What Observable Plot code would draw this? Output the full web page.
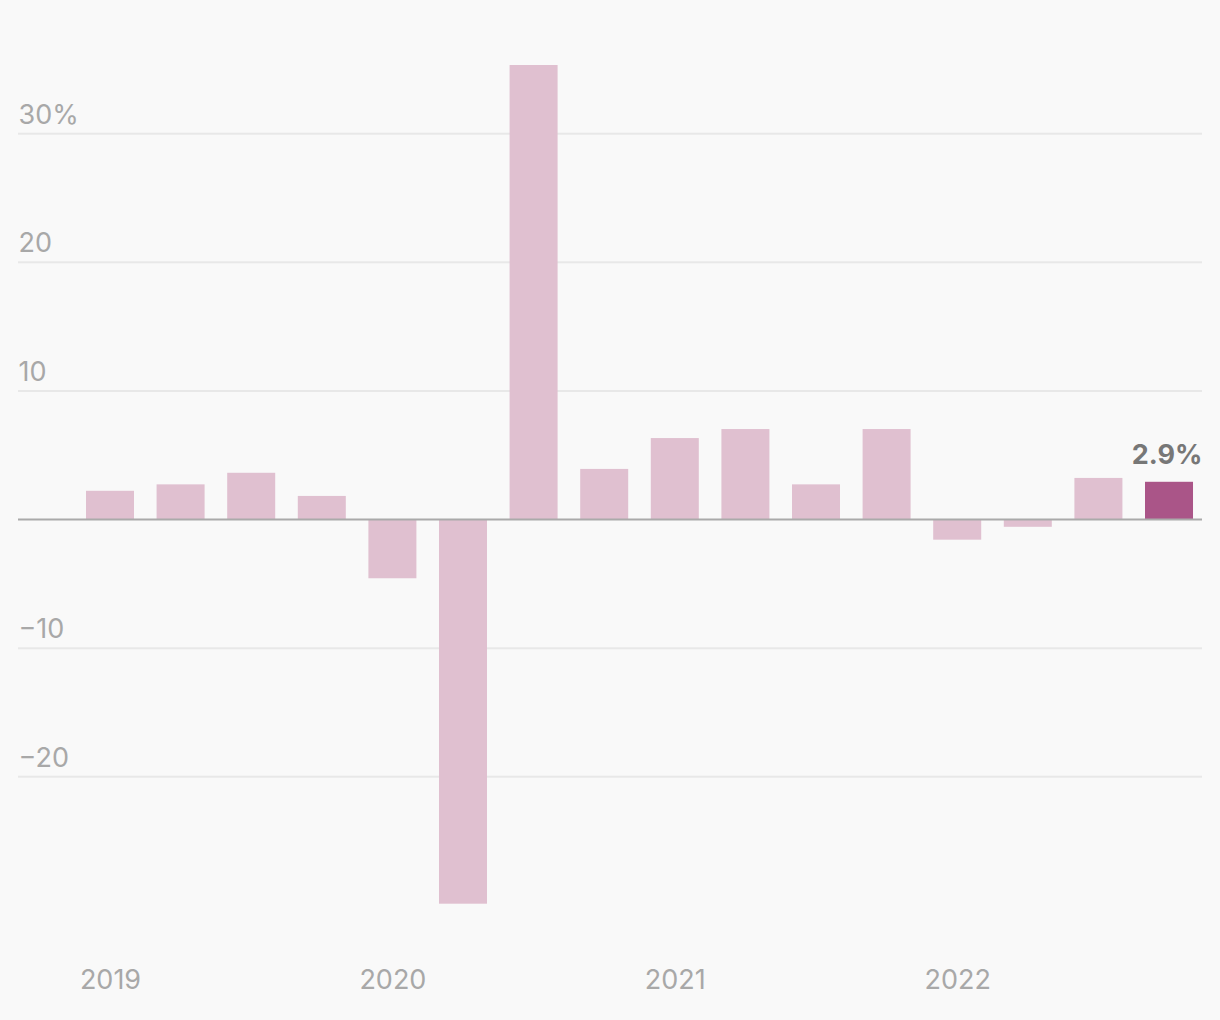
<!DOCTYPE html>
<html>
<head>
<meta charset="utf-8">
<script src="https://cdn.jsdelivr.net/npm/d3@7"></script>
<script src="https://cdn.jsdelivr.net/npm/@observablehq/plot@0.6"></script>
<style>
  html, body { margin: 0; padding: 0; background: #f9f9f9; }
  #chart svg { display: block; }
</style>
</head>
<body>
<div id="chart"></div>
<script>
const quarters = ["2019Q1","2019Q2","2019Q3","2019Q4","2020Q1","2020Q2","2020Q3","2020Q4","2021Q1","2021Q2","2021Q3","2021Q4","2022Q1","2022Q2","2022Q3","2022Q4"];
const growth = [2.2, 2.7, 3.6, 1.8, -4.6, -29.9, 35.3, 3.9, 6.3, 7.0, 2.7, 7.0, -1.6, -0.6, 3.2, 2.9];
const yearTicks = ["2019Q1","2020Q1","2021Q1","2022Q1"];
const yearLabels = ["2019","2020","2021","2022"];
const yTicks = [-20, -10, 10, 20, 30];
const yTickLabels = ["−20", "−10", "10", "20", "30%"];
const highlightLabel = "2.9%";

const data = quarters.map((q, i) => ({q, v: growth[i], last: i === quarters.length - 1}));
const yt = yTicks.map((v, i) => ({v, label: yTickLabels[i]}));
const xt = yearTicks.map((q, i) => ({q, label: yearLabels[i]}));

const font = "Inter, 'Noto Sans', sans-serif";

const chart = Plot.plot({
  width: 1220,
  height: 1020,
  marginLeft: 18,
  marginRight: 18,
  marginTop: 56,
  marginBottom: 115,
  style: {background: "#f9f9f9", fontFamily: font},
  x: {type: "band", domain: quarters, range: [63.4, 1215.6], padding: 0.32, round: false, axis: null},
  y: {domain: [-30, 36], axis: null},
  marks: [
    Plot.ruleY(yTicks, {stroke: "#e8e8e8", strokeWidth: 2}),
    Plot.text(yt, {y: "v", text: "label", frameAnchor: "left", textAnchor: "start", lineAnchor: "bottom", dy: -10, fontSize: 27, fill: "#a8a8a8"}),
    Plot.barY(data, {x: "q", y: "v", fill: d => d.last ? "#aa5588" : "#e0c0d0"}),
    Plot.ruleY([0], {stroke: "#aaaaaa", strokeWidth: 2}),
    Plot.text(xt, {x: "q", text: "label", frameAnchor: "bottom", dy: 75, lineAnchor: "middle", fontSize: 27, fill: "#a8a8a8"}),
    Plot.text(data.filter(d => d.last), {y: "v", text: () => highlightLabel, frameAnchor: "right", textAnchor: "end", lineAnchor: "bottom", dy: -18, fontSize: 27, fontWeight: "bold", fill: "#777777"})
  ]
});
document.getElementById("chart").appendChild(chart);
</script>
</body>
</html>
